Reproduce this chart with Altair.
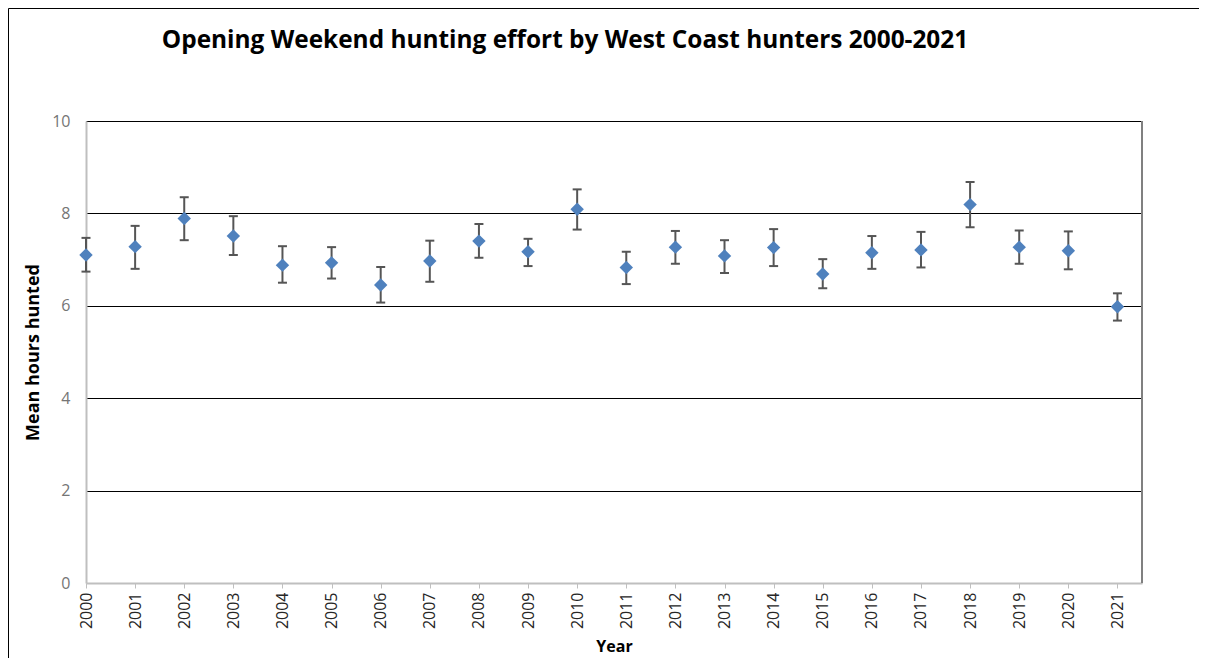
import altair as alt
import pandas as pd

years = [2000, 2001, 2002, 2003, 2004, 2005, 2006, 2007, 2008, 2009, 2010,
         2011, 2012, 2013, 2014, 2015, 2016, 2017, 2018, 2019, 2020, 2021]
means = [7.10, 7.28, 7.89, 7.51, 6.88, 6.93, 6.45, 6.97, 7.40, 7.17, 8.09,
         6.83, 7.27, 7.08, 7.26, 6.69, 7.15, 7.21, 8.19, 7.27, 7.19, 5.98]
upper = [7.47, 7.73, 8.35, 7.94, 7.29, 7.27, 6.84, 7.41, 7.77, 7.45, 8.52,
         7.17, 7.62, 7.42, 7.66, 7.01, 7.51, 7.60, 8.68, 7.63, 7.61, 6.27]
lower = [6.74, 6.80, 7.42, 7.10, 6.50, 6.59, 6.07, 6.52, 7.04, 6.86, 7.65,
         6.47, 6.91, 6.71, 6.86, 6.38, 6.80, 6.83, 7.70, 6.91, 6.79, 5.68]
y_ticks = [0, 2, 4, 6, 8, 10]
title_text = "Opening Weekend hunting effort by West Coast hunters 2000-2021"

df = pd.DataFrame({"year": years, "mean": means, "lo": lower, "hi": upper})

FONT = "Open Sans"

x_scale = alt.Scale(domain=[2000, 2021.5], nice=False, zero=False)
y_scale = alt.Scale(domain=[0, 10], nice=False)

x_axis = alt.Axis(
    values=years, format="d", labelAngle=-90, title="Year",
    labelFont=FONT, labelFontSize=16, labelColor="#262626", labelPadding=4,
    tickColor="#bfbfbf", tickSize=5, tickWidth=1,
    domainColor="#bfbfbf", domainWidth=2, grid=False,
    titleFont=FONT, titleFontSize=16, titleFontWeight="bold", titleColor="black",
    titlePadding=10,
)
y_axis = alt.Axis(
    values=y_ticks, title="Mean hours hunted",
    labelFont=FONT, labelFontSize=16, labelColor="#757575", labelPadding=16,
    ticks=False, domainColor="#bfbfbf", domainWidth=2,
    grid=True,
    gridColor=alt.condition("datum.value === 0", alt.value("transparent"), alt.value("black")),
    gridWidth=1,
    titleFont=FONT, titleFontSize=18, titleFontWeight="bold", titleColor="black",
    titlePadding=9,
)

X = alt.X("year:Q", scale=x_scale, axis=x_axis)

points = alt.Chart(df).mark_point(shape="diamond", filled=True, size=180,
                                   color="#4f81bd", opacity=1).encode(
    x=X, y=alt.Y("mean:Q", scale=y_scale, axis=y_axis)
)

bars = alt.Chart(df).mark_rule(color="#555555", strokeWidth=2).encode(
    x=X, y=alt.Y("lo:Q", scale=y_scale, axis=y_axis), y2="hi:Q"
)

caps_hi = alt.Chart(df).mark_rule(color="#555555", strokeWidth=2, xOffset=-4.5, x2Offset=4.5).encode(
    x=X, x2="year:Q", y=alt.Y("hi:Q", scale=y_scale, axis=y_axis)
)
caps_lo = alt.Chart(df).mark_rule(color="#555555", strokeWidth=2, xOffset=-4.5, x2Offset=4.5).encode(
    x=X, x2="year:Q", y=alt.Y("lo:Q", scale=y_scale, axis=y_axis)
)

one = pd.DataFrame({"t": [title_text]})

right_border = alt.Chart(one).mark_rule(color="#808080", strokeWidth=2).encode(
    x=alt.datum(2021.5), y=alt.datum(0), y2=alt.datum(10)
)

frame_left = alt.Chart(one).mark_rule(color="black", strokeWidth=1).encode(
    x=alt.value(-77.5), y=alt.value(-112.5), y2=alt.value(800)
)
frame_top = alt.Chart(one).mark_rule(color="black", strokeWidth=1).encode(
    x=alt.value(-77.5), x2=alt.value(1300), y=alt.value(-112.5)
)

title = alt.Chart(one).mark_text(font=FONT, fontSize=24.4, fontWeight="bold",
                                 color="black", align="center", baseline="alphabetic").encode(
    text="t:N", x=alt.value(479), y=alt.value(-73.5)
)

chart = alt.layer(frame_left, frame_top, right_border, bars, caps_hi, caps_lo, points, title).properties(
    width=1056, height=462,
    autosize=alt.AutoSizeParams(type="none"),
    padding={"left": 78, "top": 113, "right": 57, "bottom": 75},
).configure_view(stroke=None).configure(background="white")

chart.save("out.html", embed_options={"renderer": "svg", "actions": False})
